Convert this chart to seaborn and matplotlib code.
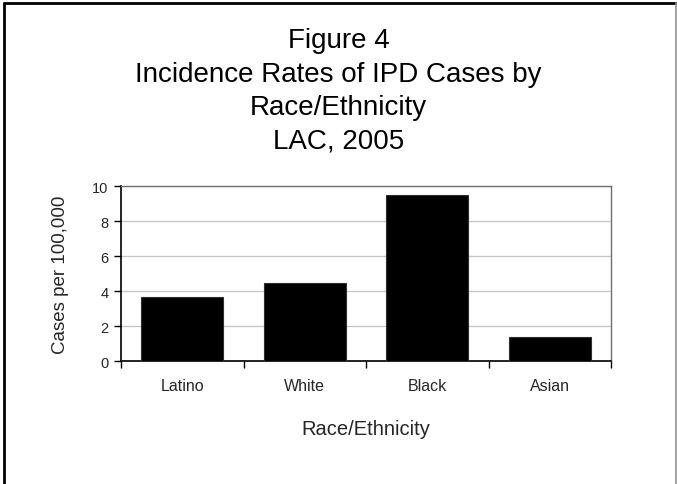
import matplotlib
matplotlib.use("Agg")
import matplotlib.pyplot as plt
from matplotlib.lines import Line2D
import seaborn as sns
import pandas as pd

# Incidence of IPD by race/ethnicity, Los Angeles County 2005
categories = ["Latino", "White", "Black", "Asian"]
rates = [3.65, 4.5, 9.5, 1.4]
y_ticks = [0, 2, 4, 6, 8, 10]

sns.set_theme(style="white")
plt.rcParams["font.family"] = ["Liberation Sans", "DejaVu Sans"]

df = pd.DataFrame({"Race/Ethnicity": categories, "Rate": rates})

W, H = 677, 485
fig = plt.figure(figsize=(W / 100, H / 100), dpi=100)
fig.patch.set_facecolor("white")

ax = fig.add_axes([121 / W, 1 - 362.3 / H, (611 - 121) / W, (362.3 - 187.3) / H])
sns.barplot(data=df, x="Race/Ethnicity", y="Rate", color="black",
            width=0.67, edgecolor="#303030", linewidth=0.8,
            saturation=1, ax=ax, zorder=3)

ax.set_xlim(-0.5, len(categories) - 0.5)
ax.set_ylim(0, 10)
ax.set_yticks(y_ticks)
ax.set_yticklabels([str(t) for t in y_ticks], fontsize=10.5)
ax.yaxis.grid(True, color="#c8c8c8", linewidth=1.0, zorder=0)
ax.set_axisbelow(True)

# category labels centred, tick marks on category boundaries
ax.set_xticks(range(len(categories)))
ax.set_xticklabels(categories, fontsize=11.5)
ax.set_xticks([i - 0.5 for i in range(len(categories) + 1)], minor=True)
ax.tick_params(axis="x", which="major", length=0, pad=12)
ax.tick_params(axis="x", which="minor", length=5, width=1, color="black",
               direction="out", bottom=True)
ax.tick_params(axis="y", length=5, width=1, color="black", direction="out",
               left=True, pad=4)

for side in ("left", "bottom"):
    ax.spines[side].set_color("black")
    ax.spines[side].set_linewidth(1.2)
for side in ("top", "right"):
    ax.spines[side].set_color("#707070")
    ax.spines[side].set_linewidth(1.0)

ax.set_xlabel("Race/Ethnicity", fontsize=14.5, labelpad=19)
ax.set_ylabel("Cases per 100,000", fontsize=13.5, labelpad=16.5)

title_lines = ["Figure 4", "Incidence Rates of IPD Cases by",
               "Race/Ethnicity", "LAC, 2005"]
for i, line in enumerate(title_lines):
    fig.text(0.5, 1 - (41 + 33.5 * i) / H, line, ha="center", va="center",
             fontsize=20, color="black")

# outer frame
fig.add_artist(Line2D([4 / W, 4 / W], [0, 1 - 4 / H], transform=fig.transFigure,
                      color="black", linewidth=2))
fig.add_artist(Line2D([4 / W, 676 / W], [1 - 4 / H, 1 - 4 / H], transform=fig.transFigure,
                      color="black", linewidth=2))
fig.add_artist(Line2D([676 / W, 676 / W], [0, 1 - 4 / H], transform=fig.transFigure,
                      color="#909090", linewidth=1.2))

fig.savefig("out.png", dpi=100)
